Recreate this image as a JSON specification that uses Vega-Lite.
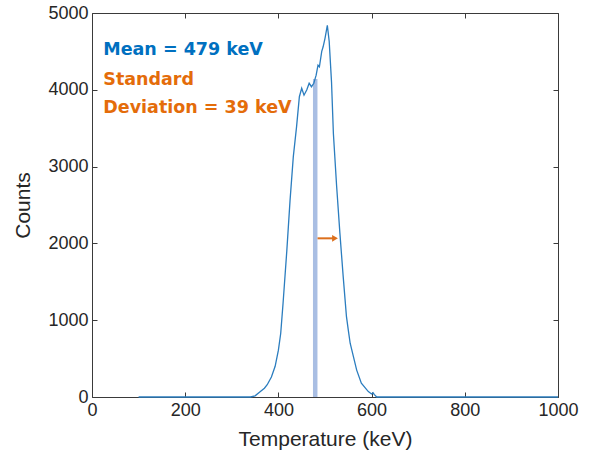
{
  "$schema": "https://vega.github.io/schema/vega-lite/v6.json",
  "width": 466,
  "height": 384,
  "autosize": {"type": "none"},
  "padding": {"left": 92, "top": 13, "right": 33, "bottom": 63},
  "background": "white",
  "config": {
    "view": {"stroke": null},
    "axis": {
      "grid": false,
      "domainColor": "#3a3a3a",
      "domainWidth": 1,
      "tickColor": "#3a3a3a",
      "tickWidth": 1,
      "tickSize": -5,
      "format": "d",
      "labelFont": "Liberation Sans",
      "labelFontSize": 18,
      "labelColor": "#262626",
      "labelFlush": false,
      "labelOverlap": false,
      "labelBound": false,
      "titleFont": "Liberation Sans",
      "titleFontSize": 21,
      "titleFontWeight": "normal",
      "titleColor": "#262626"
    }
  },
  "datasets": {
    "curve": [
      {"temperature": 100, "counts": 0},
      {"temperature": 340, "counts": 0},
      {"temperature": 350, "counts": 15},
      {"temperature": 360, "counts": 65},
      {"temperature": 370, "counts": 115},
      {"temperature": 376, "counts": 160},
      {"temperature": 385, "counts": 260},
      {"temperature": 393, "counts": 400},
      {"temperature": 400, "counts": 610},
      {"temperature": 405, "counts": 830},
      {"temperature": 410, "counts": 1220},
      {"temperature": 418, "counts": 1900},
      {"temperature": 425, "counts": 2560},
      {"temperature": 432, "counts": 3130},
      {"temperature": 439, "counts": 3520},
      {"temperature": 445, "counts": 3910},
      {"temperature": 450, "counts": 4020},
      {"temperature": 455, "counts": 3930},
      {"temperature": 461, "counts": 4000},
      {"temperature": 466, "counts": 4085},
      {"temperature": 471, "counts": 4040},
      {"temperature": 476, "counts": 4085},
      {"temperature": 481, "counts": 4190},
      {"temperature": 485, "counts": 4320},
      {"temperature": 488, "counts": 4300},
      {"temperature": 493, "counts": 4500},
      {"temperature": 496, "counts": 4560},
      {"temperature": 500, "counts": 4670},
      {"temperature": 505, "counts": 4840},
      {"temperature": 509, "counts": 4630},
      {"temperature": 514, "counts": 4100},
      {"temperature": 518, "counts": 3430},
      {"temperature": 525, "counts": 2740},
      {"temperature": 532, "counts": 2130},
      {"temperature": 539, "counts": 1570},
      {"temperature": 546, "counts": 1050},
      {"temperature": 550, "counts": 870},
      {"temperature": 554, "counts": 700},
      {"temperature": 561, "counts": 525},
      {"temperature": 568, "counts": 350},
      {"temperature": 578, "counts": 180},
      {"temperature": 593, "counts": 70},
      {"temperature": 600, "counts": 40},
      {"temperature": 603, "counts": 55},
      {"temperature": 606, "counts": 30},
      {"temperature": 611, "counts": 0},
      {"temperature": 1000, "counts": 0}
    ]
  },
  "layer": [
    {
      "data": {"values": [{"temperature": 479, "low": 0, "high": 4140}]},
      "mark": {"type": "rule", "color": "#a9bee3", "strokeWidth": 4.5},
      "encoding": {
        "x": {"field": "temperature", "type": "quantitative",
              "scale": {"domain": [0, 1000], "nice": false, "zero": false},
              "axis": {"orient": "top", "values": [0, 200, 400, 600, 800, 1000], "labels": false, "title": null}},
        "y": {"field": "low", "type": "quantitative",
              "scale": {"domain": [0, 5000], "nice": false},
              "axis": {"orient": "right", "values": [0, 1000, 2000, 3000, 4000, 5000], "labels": false, "title": null}},
        "y2": {"field": "high"}
      }
    },
    {
      "data": {"name": "curve"},
      "mark": {"type": "line", "color": "#2b7dbf", "strokeWidth": 1.3, "interpolate": "linear"},
      "encoding": {
        "x": {"field": "temperature", "type": "quantitative",
              "axis": {"orient": "bottom", "values": [0, 200, 400, 600, 800, 1000], "labelPadding": 9, "format": "d",
                       "title": "Temperature (keV)", "titleY": 48, "titleBaseline": "alphabetic", "titleX": 233}},
        "y": {"field": "counts", "type": "quantitative",
              "axis": {"orient": "left", "values": [0, 1000, 2000, 3000, 4000, 5000], "labelPadding": 9, "format": "d",
                       "title": "Counts", "titleX": -63, "titleY": 192, "titleBaseline": "alphabetic", "titleAngle": -90}}
      }
    },
    {
      "data": {"values": [{"start": 484, "end": 519, "counts": 2066}]},
      "mark": {"type": "rule", "color": "#dc6f1c", "strokeWidth": 2},
      "encoding": {
        "x": {"field": "start", "type": "quantitative", "axis": null},
        "x2": {"field": "end"},
        "y": {"field": "counts", "type": "quantitative", "axis": null}
      }
    },
    {
      "data": {"values": [{"tip": 521.5, "counts": 2066}]},
      "mark": {"type": "point", "shape": "triangle-right", "filled": true, "color": "#dc6f1c", "size": 45, "opacity": 1},
      "encoding": {
        "x": {"field": "tip", "type": "quantitative", "axis": null},
        "y": {"field": "counts", "type": "quantitative", "axis": null}
      }
    },
    {
      "data": {"values": [{"label": "Mean = 479 keV", "tx": 24.2, "ty": 4453}]},
      "mark": {"type": "text", "align": "left", "baseline": "alphabetic", "font": "DejaVu Sans", "fontWeight": "bold", "fontSize": 17.5, "color": "#0070c0"},
      "encoding": {
        "x": {"field": "tx", "type": "quantitative", "axis": null},
        "y": {"field": "ty", "type": "quantitative", "axis": null},
        "text": {"field": "label"}
      }
    },
    {
      "data": {"values": [
        {"label": "Standard", "tx": 24.2, "ty": 4063},
        {"label": "Deviation = 39 keV", "tx": 24.2, "ty": 3694}
      ]},
      "mark": {"type": "text", "align": "left", "baseline": "alphabetic", "font": "DejaVu Sans", "fontWeight": "bold", "fontSize": 17.5, "color": "#e46c0a"},
      "encoding": {
        "x": {"field": "tx", "type": "quantitative", "axis": null},
        "y": {"field": "ty", "type": "quantitative", "axis": null},
        "text": {"field": "label"}
      }
    }
  ]
}
